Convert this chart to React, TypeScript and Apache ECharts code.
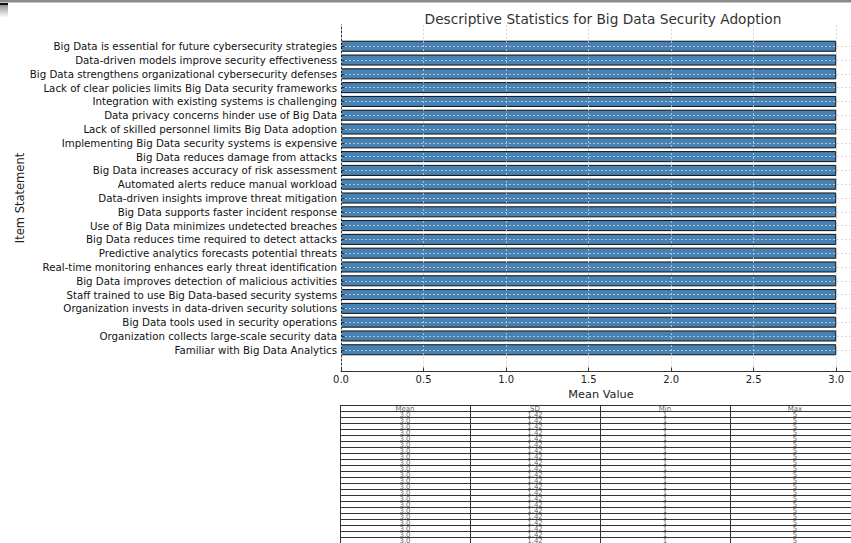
import React, { useEffect, useRef } from "react";
import * as echarts from "echarts";

const categories = [
  "Big Data is essential for future cybersecurity strategies",
  "Data-driven models improve security effectiveness",
  "Big Data strengthens organizational cybersecurity defenses",
  "Lack of clear policies limits Big Data security frameworks",
  "Integration with existing systems is challenging",
  "Data privacy concerns hinder use of Big Data",
  "Lack of skilled personnel limits Big Data adoption",
  "Implementing Big Data security systems is expensive",
  "Big Data reduces damage from attacks",
  "Big Data increases accuracy of risk assessment",
  "Automated alerts reduce manual workload",
  "Data-driven insights improve threat mitigation",
  "Big Data supports faster incident response",
  "Use of Big Data minimizes undetected breaches",
  "Big Data reduces time required to detect attacks",
  "Predictive analytics forecasts potential threats",
  "Real-time monitoring enhances early threat identification",
  "Big Data improves detection of malicious activities",
  "Staff trained to use Big Data-based security systems",
  "Organization invests in data-driven security solutions",
  "Big Data tools used in security operations",
  "Organization collects large-scale security data",
  "Familiar with Big Data Analytics",
];

const meanValues = [3.0, 3.0, 3.0, 3.0, 3.0, 3.0, 3.0, 3.0, 3.0, 3.0, 3.0, 3.0, 3.0, 3.0, 3.0, 3.0, 3.0, 3.0, 3.0, 3.0, 3.0, 3.0, 3.0];
const sdValues = [1.42, 1.42, 1.42, 1.42, 1.42, 1.42, 1.42, 1.42, 1.42, 1.42, 1.42, 1.42, 1.42, 1.42, 1.42, 1.42, 1.42, 1.42, 1.42, 1.42, 1.42, 1.42, 1.42];
const minValues = [1, 1, 1, 1, 1, 1, 1, 1, 1, 1, 1, 1, 1, 1, 1, 1, 1, 1, 1, 1, 1, 1, 1];
const maxValues = [5, 5, 5, 5, 5, 5, 5, 5, 5, 5, 5, 5, 5, 5, 5, 5, 5, 5, 5, 5, 5, 5, 5];
const tableHeaders = ["Mean", "SD", "Min", "Max"];

export default function App() {
  const ref = useRef<HTMLDivElement>(null);

  useEffect(() => {
    const chart = echarts.init(ref.current!, null, { renderer: "svg" });
    const font = "DejaVu Sans";
    const plotLeft = 341;
    const plotWidth = 520;
    const frameTop = 25;
    const frameBottom = 371;
    const nCat = categories.length;
    const yMargin = 0.05 * (nCat - 1 + 0.8);
    const unit = (frameBottom - frameTop) / (nCat - 1 + 0.8 + 2 * yMargin);
    const barGridTop = frameTop + (0.4 + yMargin - 0.5) * unit;
    const barGridHeight = nCat * unit;
    const xMax = 3.15;

    // table
    const tableTop = 405;
    const rowH = 6;
    const colX = [340, 470, 600, 730, 860];
    const nRows = nCat + 1;
    const tableEls: any[] = [];
    for (let i = 0; i <= nRows; i++) {
      const y = tableTop + i * rowH + 0.5;
      tableEls.push({
        type: "line",
        shape: { x1: colX[0], y1: y, x2: colX[4], y2: y },
        style: { stroke: "#333", lineWidth: 1 },
      });
    }
    colX.forEach((x) => {
      tableEls.push({
        type: "line",
        shape: { x1: x + 0.5, y1: tableTop, x2: x + 0.5, y2: tableTop + nRows * rowH },
        style: { stroke: "#333", lineWidth: 1 },
      });
    });
    const cols = [
      meanValues.map((v) => v.toFixed(1)),
      sdValues.map((v) => v.toFixed(2)),
      minValues.map((v) => String(v)),
      maxValues.map((v) => String(v)),
    ];
    const cellStyle = { fontSize: 7, fontFamily: font, fill: "#555", align: "center", verticalAlign: "middle", opacity: 0.99 };
    for (let c = 0; c < 4; c++) {
      const cx = (colX[c] + colX[c + 1]) / 2;
      tableEls.push({
        type: "text",
        x: cx,
        y: tableTop + rowH / 2 + 0.5,
        style: { ...cellStyle, text: tableHeaders[c] },
      });
      cols[c].forEach((t, r) => {
        tableEls.push({
          type: "text",
          x: cx,
          y: tableTop + (r + 1) * rowH + rowH / 2 + 0.5,
          style: { ...cellStyle, text: t },
        });
      });
    }

    const option: any = {
      animation: false,
      backgroundColor: "#fff",
      textStyle: { fontFamily: font },
      title: {
        text: "Descriptive Statistics for Big Data Security Adoption",
        left: 598,
        textAlign: "center",
        top: 7,
        textStyle: { fontSize: 13.7, fontWeight: "normal", color: "#333", fontFamily: font },
      },
      grid: [
        { left: plotLeft, top: frameTop, width: plotWidth, height: frameBottom - frameTop, containLabel: false, outerBoundsMode: "none" },
        { left: plotLeft, top: barGridTop, width: plotWidth, height: barGridHeight, containLabel: false, outerBoundsMode: "none" },
      ],
      xAxis: [
        {
          gridIndex: 0,
          type: "value",
          min: 0,
          max: xMax,
          interval: 0.5,
          z: 5,
          axisLine: { show: true, lineStyle: { color: "#333", width: 1 } },
          axisTick: { show: true, inside: true, length: 3.5, lineStyle: { color: "#333" } },
          axisLabel: {
            color: "#222",
            fontSize: 10,
            margin: 3,
            fontFamily: font,
            showMaxLabel: false,
            formatter: (v: number) => (Math.abs(v * 2 - Math.round(v * 2)) < 1e-6 ? v.toFixed(1) : ""),
          },
          splitLine: { show: true, lineStyle: { color: "#cfcfcf", type: [2, 2], width: 0.8 } },
          name: "Mean Value",
          nameLocation: "middle",
          nameGap: 15,
          nameTextStyle: { fontSize: 11.3, color: "#222", fontFamily: font },
        },
        { gridIndex: 1, type: "value", min: 0, max: xMax, show: false },
      ],
      yAxis: [
        {
          gridIndex: 0,
          type: "value",
          min: 0,
          max: 1,
          axisLine: { show: true, lineStyle: { color: "#333", width: 1 } },
          axisTick: { show: false },
          axisLabel: { show: false },
          splitLine: { show: false },
          name: "Item Statement",
          nameLocation: "middle",
          nameRotate: 90,
          nameGap: 315,
          nameTextStyle: { fontSize: 11.5, color: "#222", fontFamily: font },
        },
        {
          gridIndex: 1,
          type: "category",
          data: categories,
          inverse: true,
          z: 5,
          axisLine: { show: false },
          axisTick: { show: true, inside: true, alignWithLabel: true, length: 3.5, lineStyle: { color: "#333" } },
          axisLabel: { fontSize: 10.25, color: "#111", margin: 4, fontFamily: font },
          splitLine: { show: false },
        },
      ],
      series: [
        {
          type: "bar",
          xAxisIndex: 1,
          yAxisIndex: 1,
          data: meanValues,
          barWidth: "80%",
          itemStyle: { color: "#4682B4", borderColor: "#111", borderWidth: 1 },
          markLine: {
            silent: true,
            symbol: ["none", "none"],
            label: { show: false },
            lineStyle: { color: "#d4d4d4", type: [2, 2], width: 0.8 },
            data: categories.map((c) => ({ yAxis: c })),
          },
        },
      ],
      graphic: [
        { type: "rect", shape: { x: 0, y: 0, width: 851, height: 2.5 }, style: { fill: "#8a8a8a" } },
        { type: "rect", shape: { x: 0, y: 3, width: 8, height: 2.5 }, style: { fill: "#111" } },
        {
          type: "rect",
          shape: { x: 0, y: 5.5, width: 8, height: 12 },
          style: {
            fill: new echarts.graphic.LinearGradient(0, 0, 0, 1, [
              { offset: 0, color: "#9a9a9a" },
              { offset: 1, color: "#ffffff" },
            ]),
          },
        },
        ...tableEls,
      ],
    };

    chart.setOption(option);
    return () => chart.dispose();
  }, []);

  return (
    <div
      ref={ref}
      style={{ position: "fixed", left: 0, top: 0, width: 851, height: 543, background: "#fff" }}
    />
  );
}
